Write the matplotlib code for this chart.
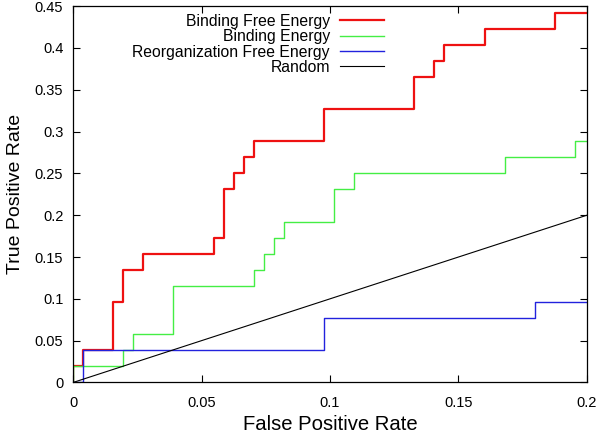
import matplotlib
matplotlib.use("Agg")
import matplotlib.pyplot as plt

plt.rcParams['font.family'] = ['Liberation Sans', 'DejaVu Sans']

# Data
bfe_x = [0, 0, 0.0039, 0.0156, 0.0195, 0.0273, 0.0547, 0.0586, 0.0625, 0.0664, 0.0703,
         0.0977, 0.1328, 0.1406, 0.1445, 0.1602, 0.1875, 0.2]
bfe_y = [0, 0.0192, 0.0385, 0.0962, 0.1346, 0.1538, 0.1731, 0.2308, 0.25, 0.2692, 0.2885,
         0.3269, 0.3654, 0.3846, 0.4038, 0.4231, 0.4423, 0.4423]

be_x = [0, 0, 0.0195, 0.0234, 0.0391, 0.0703, 0.0742, 0.0781, 0.0820, 0.1016, 0.1094,
        0.1680, 0.1953, 0.2]
be_y = [0, 0.0192, 0.0385, 0.0577, 0.1154, 0.1346, 0.1538, 0.1731, 0.1923, 0.2308, 0.25,
        0.2692, 0.2885, 0.2885]

rfe_x = [0, 0.0039, 0.0977, 0.1797, 0.2]
rfe_y = [0, 0.0385, 0.0769, 0.0962, 0.0962]

rand_x = [0, 0.2]
rand_y = [0, 0.2]

xticks = [0, 0.05, 0.1, 0.15, 0.2]
xtick_labels = ["0", "0.05", "0.1", "0.15", "0.2"]
yticks = [0, 0.05, 0.1, 0.15, 0.2, 0.25, 0.3, 0.35, 0.4, 0.45]
ytick_labels = ["0", "0.05", "0.1", "0.15", "0.2", "0.25", "0.3", "0.35", "0.4", "0.45"]

fig = plt.figure(figsize=(6.0, 4.34), dpi=100)
ax = fig.add_axes([0.1217, 0.1187, 0.8566, 0.8673])

ax.step(bfe_x, bfe_y, where='post', color='#ee1111', lw=1.6, label='Binding Free Energy')
ax.step(be_x, be_y, where='post', color='#44ee44', lw=1.0, label='Binding Energy')
ax.step(rfe_x, rfe_y, where='post', color='#2222dd', lw=1.0, label='Reorganization Free Energy')
ax.plot(rand_x, rand_y, color='black', lw=0.8, label='Random')

ax.set_xlim(0, 0.2)
ax.set_ylim(0, 0.45)
ax.set_xticks(xticks)
ax.set_xticklabels(xtick_labels)
ax.set_yticks(yticks)
ax.set_yticklabels(ytick_labels)
ax.tick_params(direction='in', length=5, width=0.8, top=True, right=True,
               labelsize=10.5, pad=7)
ax.tick_params(axis='x', pad=10)
for s in ax.spines.values():
    s.set_linewidth(0.9)

ax.set_xlabel('False Positive Rate', fontsize=14.6, labelpad=3)
ax.set_ylabel('True Positive Rate', fontsize=14, labelpad=8)

leg = ax.legend(loc='upper right', bbox_to_anchor=(0.62, 1.0), frameon=False,
                markerfirst=False, fontsize=11.3, handlelength=2.8,
                labelspacing=0.02, handletextpad=0.64, borderaxespad=0.1)
for t in leg.get_texts():
    t.set_ha('right')
leg._legend_box.align = 'right'

fig.savefig('out.png', dpi=100)
